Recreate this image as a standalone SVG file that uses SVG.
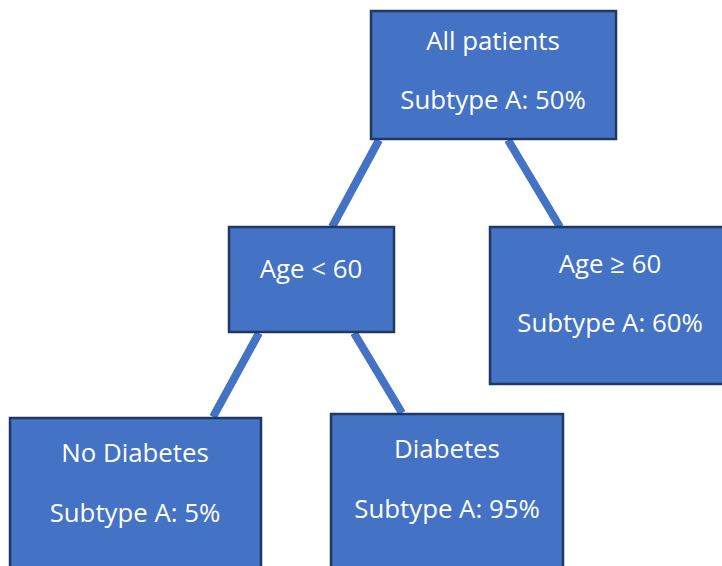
<svg xmlns="http://www.w3.org/2000/svg" width="722" height="566" viewBox="0 0 722 566">
<style>
.box{fill:#4472C4;stroke:#1F3864;stroke-width:2.5}
.lbl{font-family:"Open Sans","Liberation Sans",sans-serif;font-size:25.8px;fill:#ffffff;text-anchor:middle}
.edge{stroke:#4472C4;stroke-width:8;fill:none}
</style>
<rect width="722" height="566" fill="#ffffff"/>
<g id="connectors">
<line class="edge" x1="379" y1="140" x2="332" y2="227"/>
<line class="edge" x1="508" y1="140" x2="560" y2="227"/>
<line class="edge" x1="259" y1="333" x2="213" y2="417"/>
<line class="edge" x1="354" y1="333" x2="402" y2="413"/>
</g>
<g id="all-patients">
<rect class="box" x="371" y="11" width="245" height="128"/>
<text class="lbl" x="493" y="50">All patients</text>
<text class="lbl" x="493" y="109">Subtype A: 50%</text>
</g>
<g id="age-lt-60">
<rect class="box" x="229" y="227" width="165" height="105"/>
<text class="lbl" x="311" y="278">Age &lt; 60</text>
</g>
<g id="age-ge-60">
<rect class="box" x="490" y="227" width="240" height="157"/>
<text class="lbl" x="610" y="273">Age ≥ 60</text>
<text class="lbl" x="610" y="332">Subtype A: 60%</text>
</g>
<g id="no-diabetes">
<rect class="box" x="10" y="418" width="251" height="160"/>
<text class="lbl" x="135" y="462">No Diabetes</text>
<text class="lbl" x="135" y="522">Subtype A: 5%</text>
</g>
<g id="diabetes">
<rect class="box" x="331" y="414" width="232" height="164"/>
<text class="lbl" x="447" y="458">Diabetes</text>
<text class="lbl" x="447" y="518">Subtype A: 95%</text>
</g>
</svg>
